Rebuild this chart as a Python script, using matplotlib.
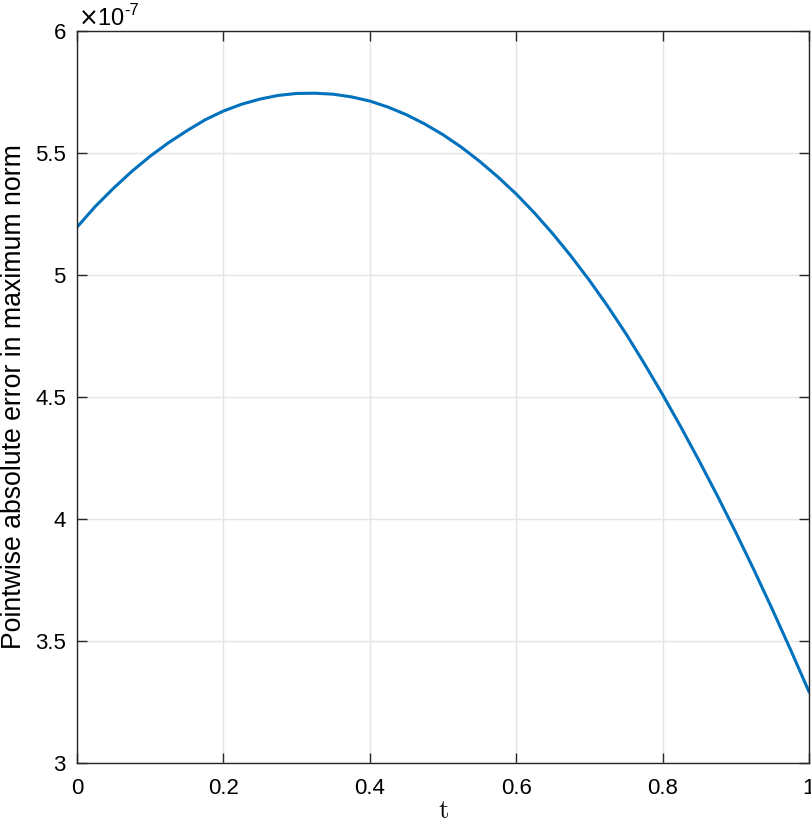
import matplotlib
matplotlib.use("Agg")
import matplotlib.pyplot as plt
from matplotlib.ticker import FuncFormatter

# Data (values in units of 1e-7)
t = [0.000, 0.025, 0.050, 0.075, 0.100, 0.125, 0.150, 0.175, 0.200, 0.225,
     0.250, 0.275, 0.300, 0.325, 0.350, 0.375, 0.400, 0.425, 0.450, 0.475,
     0.500, 0.525, 0.550, 0.575, 0.600, 0.625, 0.650, 0.675, 0.700, 0.725,
     0.750, 0.775, 0.800, 0.825, 0.850, 0.875, 0.900, 0.925, 0.950, 0.975,
     1.000]
err = [5.196, 5.281, 5.356, 5.425, 5.487, 5.542, 5.591, 5.636, 5.672, 5.700,
       5.721, 5.736, 5.744, 5.745, 5.741, 5.730, 5.713, 5.688, 5.657, 5.619,
       5.575, 5.524, 5.466, 5.402, 5.332, 5.254, 5.169, 5.077, 4.978, 4.872,
       4.759, 4.637, 4.510, 4.377, 4.238, 4.094, 3.945, 3.790, 3.629, 3.463,
       3.292]
xticks = [0, 0.2, 0.4, 0.6, 0.8, 1]
yticks = [3, 3.5, 4, 4.5, 5, 5.5, 6]

plt.rcParams['font.family'] = ['Liberation Sans', 'DejaVu Sans']
plt.rcParams['mathtext.fontset'] = 'cm'

fig = plt.figure(figsize=(8.12, 8.22), dpi=100)
ax = fig.add_axes([77/812, 59/822, 732/812, 732/822])

ax.plot(t, err, color='#0072BD', lw=2.2)
ax.set_xlim(0, 1)
ax.set_ylim(3, 6)
ax.set_xticks(xticks)
ax.set_yticks(yticks)
fmt = FuncFormatter(lambda v, p: ('%g' % v))
ax.xaxis.set_major_formatter(fmt)
ax.yaxis.set_major_formatter(fmt)

ax.grid(True, color='#e5e5e5', lw=1.0)
ax.set_axisbelow(True)
for s in ax.spines.values():
    s.set_color('#262626')
    s.set_linewidth(1.0)
ax.tick_params(direction='in', length=7, width=1.0, color='#262626',
               labelsize=16, labelcolor='black', top=True, right=True)
ax.tick_params(axis='x', pad=11)
ax.tick_params(axis='y', pad=8)

ax.set_xlabel(r'$\mathrm{t}$', fontsize=19, labelpad=0)
ax.set_ylabel('Pointwise absolute error in maximum norm', fontsize=19.2, labelpad=6)

# exponent label (x10^-7)
ax.annotate(r'$\times$10', xy=(0, 1), xycoords='axes fraction',
            xytext=(1, 6), textcoords='offset pixels',
            fontsize=17, ha='left', va='baseline', math_fontfamily='dejavusans')
ax.annotate('-7', xy=(0, 1), xycoords='axes fraction',
            xytext=(47, 16), textcoords='offset pixels',
            fontsize=12, ha='left', va='baseline')

fig.savefig('out.png', dpi=100)
